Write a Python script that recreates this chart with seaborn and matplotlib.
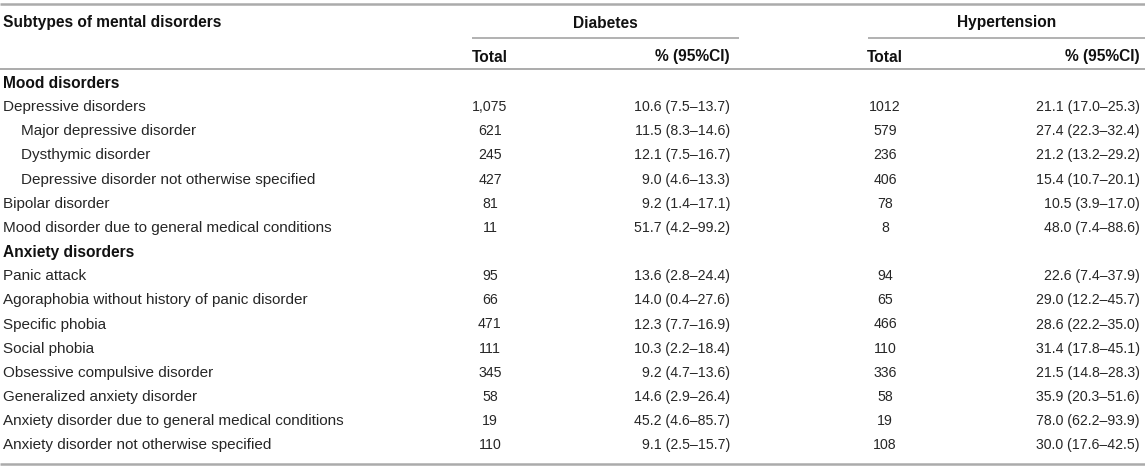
import matplotlib
matplotlib.use("Agg")
import matplotlib.pyplot as plt
import seaborn as sns

# ---- data ----
header_first = "Subtypes of mental disorders"
groups = ["Diabetes", "Hypertension"]
sub_headers = ["Total", "% (95%CI)"]

row_labels = [
    "Mood disorders",
    "Depressive disorders",
    "Major depressive disorder",
    "Dysthymic disorder",
    "Depressive disorder not otherwise specified",
    "Bipolar disorder",
    "Mood disorder due to general medical conditions",
    "Anxiety disorders",
    "Panic attack",
    "Agoraphobia without history of panic disorder",
    "Specific phobia",
    "Social phobia",
    "Obsessive compulsive disorder",
    "Generalized anxiety disorder",
    "Anxiety disorder due to general medical conditions",
    "Anxiety disorder not otherwise specified",
]
row_kind = ["section", "item", "sub", "sub", "sub", "item", "item", "section",
            "item", "item", "item", "item", "item", "item", "item", "item"]

diab_total = ["", "1,075", "621", "245", "427", "81", "11", "",
              "95", "66", "471", "111", "345", "58", "19", "110"]
diab_pct = ["", "10.6 (7.5–13.7)", "11.5 (8.3–14.6)", "12.1 (7.5–16.7)", "9.0 (4.6–13.3)",
            "9.2 (1.4–17.1)", "51.7 (4.2–99.2)", "",
            "13.6 (2.8–24.4)", "14.0 (0.4–27.6)", "12.3 (7.7–16.9)", "10.3 (2.2–18.4)",
            "9.2 (4.7–13.6)", "14.6 (2.9–26.4)", "45.2 (4.6–85.7)", "9.1 (2.5–15.7)"]
hyp_total = ["", "1012", "579", "236", "406", "78", "8", "",
             "94", "65", "466", "110", "336", "58", "19", "108"]
hyp_pct = ["", "21.1 (17.0–25.3)", "27.4 (22.3–32.4)", "21.2 (13.2–29.2)", "15.4 (10.7–20.1)",
           "10.5 (3.9–17.0)", "48.0 (7.4–88.6)", "",
           "22.6 (7.4–37.9)", "29.0 (12.2–45.7)", "28.6 (22.2–35.0)", "31.4 (17.8–45.1)",
           "21.5 (14.8–28.3)", "35.9 (20.3–51.6)", "78.0 (62.2–93.9)", "30.0 (17.6–42.5)"]

# ---- style ----
sns.set_theme(style="white")
plt.rcParams["font.family"] = ["Liberation Sans", "DejaVu Sans"]

W, H = 1145, 469
fig = plt.figure(figsize=(W / 100, H / 100), dpi=100)
ax = fig.add_axes([0, 0, 1, 1])
ax.set_xlim(0, W)
ax.set_ylim(H, 0)
ax.axis("off")
sns.despine(ax=ax, left=True, bottom=True)

FS_B = 11.2     # bold headers
FS_L = 11.0     # row labels
FS_N = 10.2     # numbers
TXT_B = "#111111"
TXT = "#262626"
LINE = "#ababab"

# column anchors (pixels)
x_label = 3
indent = 18
x_dt = 490      # diabetes total (center)
x_dp = 730      # diabetes pct (right)
x_ht = 885      # hypertension total (center)
x_hp = 1140     # hypertension pct (right)

y_top = 4
y_h1 = 23
y_mid = 38
y_h2 = 57
y_hl = 69.5
y_first = 83
row_h = 24.15
y_bot = 464

# rules
ax.plot([0, W], [y_top, y_top], color=LINE, lw=1.8, solid_capstyle="butt")
ax.plot([472, 739], [y_mid, y_mid], color=LINE, lw=1.3, solid_capstyle="butt")
ax.plot([868, W], [y_mid, y_mid], color=LINE, lw=1.3, solid_capstyle="butt")
ax.plot([0, W], [y_hl, y_hl], color=LINE, lw=1.4, solid_capstyle="butt")
ax.plot([0, W], [y_bot, y_bot], color=LINE, lw=1.8, solid_capstyle="butt")

# headers
hb = dict(fontsize=FS_B, fontweight="bold", color=TXT_B, va="center")
ax.text(x_label, y_h1, header_first, ha="left", **hb)
ax.text(605, y_h1, groups[0], ha="center", **hb)
ax.text(1007, y_h1, groups[1], ha="center", **hb)
ax.text(x_dt, y_h2, sub_headers[0], ha="center", **hb)
ax.text(x_dp, y_h2, sub_headers[1], ha="right", **hb)
ax.text(x_ht, y_h2, sub_headers[0], ha="center", **hb)
ax.text(x_hp, y_h2, sub_headers[1], ha="right", **hb)

# body
num = dict(fontsize=FS_N, color=TXT, va="center")
for i, lab in enumerate(row_labels):
    y = y_first + i * row_h
    kind = row_kind[i]
    if kind == "section":
        ax.text(x_label, y, lab, ha="left", **hb)
        continue
    xl = x_label + (indent if kind == "sub" else 0)
    ax.text(xl, y, lab, fontsize=FS_L, color=TXT, va="center", ha="left")
    ax.text(x_dt, y, diab_total[i], ha="center", **num)
    ax.text(x_dp, y, diab_pct[i], ha="right", **num)
    ax.text(x_ht, y, hyp_total[i], ha="center", **num)
    ax.text(x_hp, y, hyp_pct[i], ha="right", **num)

fig.savefig("out.png", dpi=100)
